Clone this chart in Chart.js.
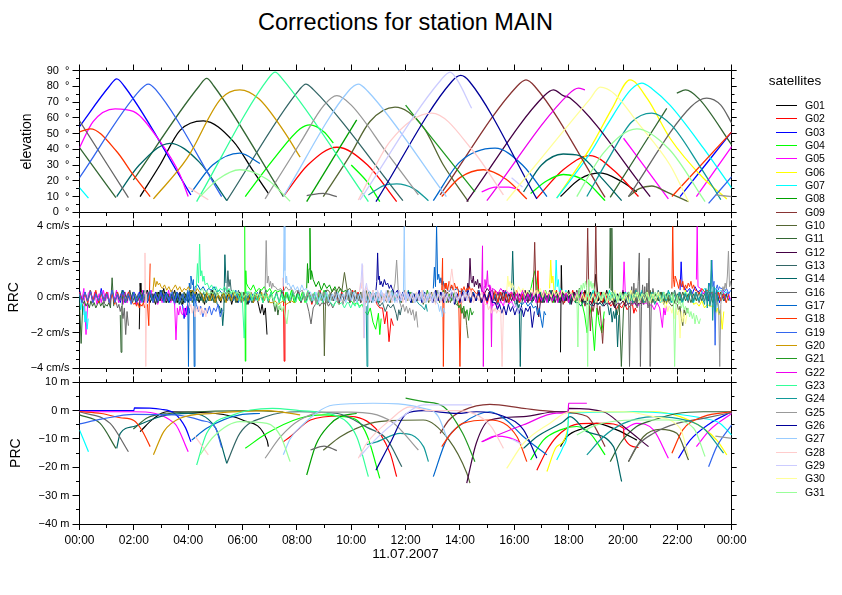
<!DOCTYPE html>
<html>
<head>
<meta charset="utf-8">
<script src="https://cdn.jsdelivr.net/npm/chart.js@4/dist/chart.umd.min.js"></script>
<style>
  body { margin: 0; background: #fff; width: 842px; height: 595px; overflow: hidden; position: relative;
         font-family: "Liberation Sans", Arial, Helvetica, sans-serif; color: #000; }
  canvas { position: absolute; left: 0; top: 0; }
  #title { position: absolute; left: 79.5px; width: 652px; top: 9px; text-align: center; font-size: 23.5px; line-height: 27px; }
  #legendTitle { position: absolute; left: 745px; width: 100px; top: 73px; text-align: center; font-size: 13.5px; line-height: 16px; }
  .row { position: absolute; left: 776px; height: 13px; width: 60px; }
  .row span.sw { position: absolute; left: 0; top: 6px; width: 21px; height: 1px; }
  .row span.tx { position: absolute; left: 29px; top: 0; font-size: 10.5px; line-height: 13px; }
</style>
</head>
<body>
<div id="title">Corrections for station MAIN</div>
<canvas id="elevChart" width="842" height="595"></canvas>
<canvas id="rrcChart" width="842" height="595"></canvas>
<canvas id="prcChart" width="842" height="595"></canvas>
<div id="legendTitle">satellites</div>
<div id="legend"></div>
<script>
// satellites and their colours
const satNames = ['G01','G02','G03','G04','G05','G06','G07','G08','G09','G10','G11','G12','G13','G14','G16',
  'G17','G18','G19','G20','G21','G22','G23','G24','G25','G26','G27','G28','G29','G30','G31'];
const satColors = ['#000000','#ff0000','#0000ff','#00ff00','#ff00ff','#ffff00','#00ffff','#00a000','#883333','#556633',
  '#336633','#440044','#336666','#006666','#666666','#0066cc','#ff3300','#3366ee','#cc9900','#229922',
  '#ee00ee','#33ff99','#119999','#999999','#000099','#99ccff','#ffcccc','#ccccff','#ffff99','#99ff99'];

const timeLabels = ['00:00','02:00','04:00','06:00','08:00','10:00','12:00','14:00','16:00','18:00','20:00','22:00','00:00'];
const dateLabel = '11.07.2007';

// elevation passes (hour, degrees), one list of arcs per satellite
const elevation = [
  [[[2.23,10],[2.96,30],[3.7,52],[4.56,58],[5.66,45],[6.4,26],[6.95,12]], [[17.7,10],[18.4,21],[19.16,25],[19.9,20],[20.51,13]]],
  [[[7.5,10],[8.4,30],[9.47,41.3],[10.6,30],[11.67,6.8]], [[16.83,9],[17.8,27],[18.79,36],[19.7,26],[20.57,10]]],
  [[[0,54.4],[1.1,80],[1.37,84.7],[1.65,80],[4.1,11]], [[22.1,10],[24,51]]],
  [[[6.1,10],[7.2,35],[8.12,53],[8.48,55.5],[9.0,51],[9.34,44]], [[10.0,30],[10.6,19],[11.05,6.8]], [[16.6,12],[17.2,20],[17.8,24],[18.6,20],[19.34,7.4]]],
  [[[0,41],[0.5,57.6],[1.31,65.7],[1.98,64],[2.96,45],[3.7,23.7],[4.0,10]], [[14.8,13],[15.3,16],[15.8,16],[16.2,14]], [[20.02,47],[21.67,8.5]], [[22.7,10],[24,41.7]]],
  [[[17.56,9],[18.79,40.7],[19.6,66],[20.26,84],[20.9,72],[21.73,47],[22.96,21.6],[23.82,8.5]]],
  [[[0,15.7],[0.33,9]], [[17.56,9],[18.79,37.5],[19.4,55],[20.3,78],[20.69,82],[21.1,78],[21.73,68],[22.96,40.7],[24,15.3]]],
  [[[8.36,6.8],[10.2,58.7]]],
  [[[13.27,11],[16.1,80],[16.43,84],[16.75,80],[19.34,9.5]]],
  [[[8.97,10],[9.95,36],[10.69,57.6],[11.61,66.7],[12.65,54],[13.39,30],[14.31,6.8]], [[20.2,10],[20.6,15],[21.06,16.7],[21.6,13],[22.41,6.8]]],
  [[[0,41],[1.34,9.3]], [[1.98,20.5],[4.4,80],[4.68,85],[4.95,80],[7.5,10]], [[19.53,9.5],[21.61,66]], [[21.98,75.6],[22.3,77.7],[22.8,72],[24,42.8]]],
  [[[14.25,6.8],[17.1,74],[17.44,77.7],[17.8,74],[18.05,72.5],[21.0,10]]],
  [[[5.42,7.4],[8.1,78],[8.33,81.4],[8.6,78],[11.9,7.4]]],
  [[[1.37,10],[2.2,30],[3.33,43.8],[4.4,32],[5.42,7.4]], [[16.34,13],[17.0,30],[17.8,37],[18.4,36],[19.2,22],[19.95,7.4]]],
  [[[0,58],[1.8,9.3]], [[8.36,10.6],[8.97,12],[9.47,10]], [[20.2,10],[22.5,67],[23.08,72.5],[23.6,68],[24,56.6]]],
  [[[4.13,13],[4.9,30],[5.9,37.5],[6.64,31]], [[13.02,7.4],[14.0,32],[15.29,40.7],[16.3,30],[17.2,10]]],
  [[[0,51],[0.4,53],[1.37,38.6],[1.98,23.7],[2.6,10]], [[13.33,10],[14.0,22],[14.86,27],[15.7,21],[16.46,8.5]], [[21.8,10],[24,51]]],
  [[[0,22],[2.25,78],[2.53,81.4],[2.8,78],[5.23,10]], [[23.15,5.7],[24,22.6]]],
  [[[2.72,8.5],[3.95,34],[5.2,72],[5.9,77.7],[6.6,72],[7.5,52],[8.12,35]]],
  [[[12.0,68],[14.55,13]]],
  [[[14.99,7.4],[18.0,75],[18.36,78.8],[18.6,77.7]]],
  [[[4.31,6.8],[6.95,85],[7.2,89],[7.45,85],[10.63,6.8]]],
  [[[10.63,11],[11.2,17],[11.67,18],[12.3,15],[12.84,7.4]], [[18.67,10],[19.5,35],[20.3,57],[21.06,63],[21.8,55],[22.8,30],[23.6,8]]],
  [[[6.83,8.5],[8.12,44],[9.0,68],[9.47,74],[10.0,68],[11.3,38],[12.47,11]], [[23.4,11],[24,10]]],
  [[[10.91,6.8],[13.7,83],[14.03,86.9],[14.35,83],[16.83,8.5]]],
  [[[7.5,10],[9.9,77],[10.26,81.4],[10.6,77],[13.5,10]]],
  [[[4.0,16],[4.74,8]], [[10.26,7.8],[11.43,45],[12.96,63],[14.5,38.6],[15.6,11]]],
  [[[10.32,7.8],[13.3,84],[13.64,89],[13.9,84],[14.43,66]], [[15.9,22],[16.3,16]]],
  [[[15.72,7.4],[18.79,72],[19.16,79.4],[19.7,75],[20.51,57.6],[21.73,30],[22.41,6.8]]],
  [[[4.44,10],[5.1,21],[5.9,27],[6.9,21],[7.75,7]], [[18.3,10],[19.3,38],[20.51,53],[21.7,40],[23.02,6.8]]]
];

// range-rate corrections in mm/s: per arc, runs of [start hour, step, values]
const rrc = [
  [[[2.2,0.03,[-18,8,3]],[2.3,0.1,[3,-2,4,-3,2,-4,3,-2,5,-3,2,-2,4,-3,3,-4,2,-3,4,-2,3,-3,2,-4,3,-2,4,-3,2,-3,3,-2,4,-4,2,-3,3,-2,2,-4,3,-3,2]],[6.6,0.06,[-5,-9,-4,-10,-6,-21]]],
   [[17.7,0.03,[-31,18,-2]],[17.8,0.1,[3,-2,4,-3,3,-2,5,-3,4,-2,3,-3,13,-2,3,-3,4,-2,3,-3,2,-2,4,-3,3,-2,2,-3]]]],
  [[[7.5,0.03,[11,-36,-11,2]],[7.65,0.1,[2,-3,3,-2,4,-3,2,-2,3,-4,2,-3,4,-2,3,-3,2,-2,3,-4,3,-2,2,-3,4,-2,3,-3,2,-3,3,-2,2,-4,-6]],[11.15,0.08,[-6,-15,-8,-25,-12,-16]]],
   [[16.83,0.04,[3,15,-3]],[16.95,0.1,[2,-3,3,-2,3,-2,4,-3,2,-3,3,-2,4,-3,2,-2,3,-3,2,-4,3,-2,3,-3,2,-2,-5,-3,-7,-4,-6,-3,-7,-5,-4]],[20.4,0.05,[-9,-6,-8]]]],
  [[[0,0.1,[4,-2,3,-3,4,-2,3,-3,5,-2,3,-3,4,-2,2,-3,4,-3,2,-2,3,-4,3,-2,4,-3,2,-2,3,-3,4,-2,3,-3,2,-4,3,-2]],[3.8,0.05,[-5,-12,-6,-10,-4,-9]]],
   [[22.1,0.04,[4,20,6]],[22.25,0.1,[6,3,5,2,6,3,4,2,3,-2,3,-2,4,-3,2,-2,3,-2]]]],
  [[[6.08,0.02,[40,-36,15,8]],[6.2,0.1,[6,4,7,3,5,4,6,3,5,2,4,3,4,-2,3,-2,4,-3,2,-2,3,-3,4,-2,2,-3,3,-2,4,-3,2,-2]]],
   [[10.0,0.1,[-2,-4,-3,-5,-4,-8,-10,-6,-14,-18,-9]],[11.05,0.05,[-21,-12]]],
   [[16.6,0.08,[4,10,15,5]],[16.95,0.1,[3,-2,4,-2,3,-3,2,-3,4,-2,3,-2,2,-3,3,-2]],[18.5,0.09,[-4,-10,-20,-5,-12,-30,-6,-15,-20,-8]]]],
  [[[0,0.08,[3,-3,5,-21,2,4,-3,3,-4,2,-3,4,-2,3,-4,3,-2,4,-3,2,-4,3,-3,4,-2,3,-4,2,-3,4,-3,3,-2,4,-3,2,-4,3,-3,2,-2,4,-3,2]],[3.5,0.05,[-4,-24,-6,-10,-5,-9,-10,-6,-11,-5]]],
   [[14.8,0.1,[-3,3,-4,2,-5,-3,-6,-2,-5,3,-4,-2,-6,-3]]],
   [[20.0,0.04,[3,20,4]],[20.15,0.1,[-3,2,-4,-3,-5,-2,-4,-3,-5,-4,-7,-3,-6]],[21.45,0.05,[-17,-6,-10,-5]]],
   [[22.7,0.03,[10,40,6]],[22.85,0.1,[5,2,4,1,3,-1,3,2,4,1,3,-1]]]],
  [[[17.3,0.04,[5,21,8,12,4]],[17.5,0.1,[3,-2,4,-2,3,-3,2,-2,3,-3,2,-2,3,-2,4,-3,2,-3,3,-2,4,-3,2,-2,3,-3,2,-2,4,-3,3,-2,2,-3,4,-2,3,-3,2,-2,3,-4,2,-3,3,-2,2,-3,4,-2,3,-4,-3,-5,-2,-6,-4,-5]],[23.35,0.06,[-5,-9,-6,-10,-7,-18,-8]]]],
  [[[0,0.04,[2,-7,-3,-10,-5,-14,-8,-18,-12]]],
   [[17.5,0.04,[4,21,6,10,3]],[17.7,0.1,[5,-2,4,-3,3,-2,4,-2,3,-3,2,-2,4,-3,3,-2,2,-3,4,-2,3,-3,2,-2,3,-4,2,-2,3,-3,4,-2,2,-3,3,-2,4,-3,2,-2,3,-3,4,-2,2,-3,3,-2,4,-3,2,-2,3,5,3,4,2,5,3,4,2,3,2]]]],
  [[[8.36,0.03,[5,19,8,16,39,10,15]],[8.6,0.1,[10,6,9,4,8,5,7,3,6,2,5,3,4,-2,3,2]]]],
  [[[13.27,0.1,[3,-2,4,-3,2,-2,3,-3,4,-2,2,-3,3,-2,4,-3,2,-2,3,-3,2,-4,3,-2,4,-3,2,-2,3,-3,2,-2,3,-2]],[16.7,0.05,[3,31,2,-3]],[16.9,0.1,[2,-3,3,-2,4,-3,2,-2,3,-4,2,-3,3,-2,4,-3,2]],[18.6,0.05,[-5,-2,39,-3,-19,-5,-8,-4,40,-6,-10,-5,-15,-26,-12]]]],
  [[[8.97,0.04,[3,-33,-5,4]],[9.15,0.1,[4,2,5,3,6,3,14,4,5,2,4,-2,3,-2,4,-3,2,-2,3,-3,2,-2,4,-3,3,-2,2,-3,4,-2,3,-3,2,-2,3,-4,2,-3,3,-2,4,-3,2,-2,3,-3,2,-4]],[14.0,0.05,[-5,-9,-6,-12,-8,-16,-23]]],
   [[20.2,0.1,[3,-2,4,-3,2,-3,3,-2,4,-3,2,-2,3,-4,2,-3,-5,-3]],[22.0,0.05,[-4,-8,-5,-12,-16,-7,-10,-6,-9]]]],
  [[[0,0.06,[-3,-26,-4,-2,-5,-3,-6,-2,-5,-3,-6,-4,-2,-5,-3,-6,-4,-5,-3,-6,11,-5]]],
   [[1.5,0.03,[-10,-31,-8,3]],[1.65,0.1,[3,-2,4,-3,2,-2,3,-3,4,-2,2,-3,3,-2,4,-3,2,-2,3,-3,2,-4,3,-2,4,-3,2,-2,3,-3,2,-2,4,-3,3,-2,2,-3,4,-2,3,-3,2,-2,3,-4,2,-3,3,-2,4,-3,2,-2,3]],[7.15,0.05,[-4,-8,-3,-10,-5,-7]]],
   [[19.5,0.03,[5,39,4,39,2,-5]],[19.7,0.08,[-3,-10,-4,-39,-6,-3]],[20.2,0.1,[3,-2,3,-2,2,-3,2,-2,3,-2,2,-2,3,-2,2,-2,3,-3,2,-2,3,-2,2,-3,2,-2,3,-2,2,-2,3,-3,2,-2,3,-2,2,-2]]]],
  [[[14.25,0.04,[3,8,5,22,10,8,12,6,9,7,10,5,8]],[14.8,0.1,[4,2,5,3,4,-2,3,-2,4,-3,2,-2,3,-3,2,-2,4,-3,3,-2,2,-11,3,-3,2,-2,4,-3,2,-3,3,-2,2,-4,3,-2,2,-3,-2,-4,-2,-5,-3,-4,-2,-5,-3,-4,-2,-6,-3,-4,-2,-5,-3,-4,-2,-5,-3,-4]]]],
  [[[5.42,0.04,[3,15,6,10,4]],[5.65,0.1,[3,-2,4,-3,2,-2,3,-3,2,-2,3,-2,4,-3,2,-2,3,-3,4,-2,2,-3,3,-2,4,-3,2,-2,3,-3,2,-4,3,-2,4,-3,2,-2,3,-3,2,-2,4,-3,3,-2,2,-3,4,-2,3,-3,2,-2,-5,-3,-8,-4,-6,-4]],[11.65,0.05,[-9,-13,-7,-10,-6]]]],
  [[[1.37,0.1,[3,-2,4,-3,2,-2,3,-3,2,-2,4,-3,3,-2,2,-3,4,-2,3,-3,2,-2,3,-4,2,-3,3,-2,4,-3,2,-2,3,-3,2,-2,3,-4]],[5.15,0.04,[-5,-9,-6,-16,-8,24,8]]],
   [[15.9,0.04,[4,26,5,-3,-5,-2,-6,-4,-39,-5]],[16.35,0.1,[3,-2,4,-3,2,-2,3,-3,2,-3,4,-2,3,-3,2,-2,3,-4,2,-3,-3,-5,-2,-4,-3,-5,-2,-4,-3,-5,-2]],[19.45,0.05,[-5,-10,-6,-14,-8,-12,-7,-28,-10]]]],
  [[[0,0.1,[2,-3,3,-2,4,-3,2,-2,3,-4,2,-3,3,-2]],[1.35,0.05,[-3,-6,-4,-8,-5,-12,-6,-21,-8,-16]]],
   [[8.36,0.08,[-3,-8,-15,-6,-4,-2,-5,-3,-4,-2,-5,-3,-6,-3]]],
   [[20.2,0.04,[3,-39,-5,6,-4,8,-3,5,-6,9,25,-39,-5,7,-4,6,-3,8,-6,22,-39,-4]],[21.1,0.1,[5,-3,4,-2,3,-3,2,-2,4,-3,3,-2,2,-3,4,-2,3,-3,2,-2,3,-4,2,-3,3,-2,2,-3]]]],
  [[[3.98,0.03,[4,-39,8,5,12,9,7,10,-39,6]],[4.35,0.1,[7,4,6,3,5,4,6,3,4,2,3,-2,3,-2,4,-3,2,-2,3,-3,2,-2,3]]],
   [[13.02,0.04,[5,17,6,40,10,13,8,11,7,9,6]],[13.5,0.1,[5,3,6,4,5,3,4,2,3,-2,3,-2,4,-3,2,-2,3,-3,2,-4,3,-2,4,-3,2,-2,3,-3,-4,-2,-5,-3,-6]],[16.8,0.06,[-5,-10,-6,-12,-17,-8,-10]]]],
  [[[0,0.1,[3,-2,2,-3,3,-2,4,-3,2,-2,3,-3,2,-4,3,-2,2,-3,3,-2]],[2.0,0.05,[-4,-3,-5,-3,-6,-4,-5,-3,-6,-5,-4,-16,19]]],
   [[13.33,0.03,[4,22,-39,6,8,5]],[13.5,0.05,[8,4,9,5,7,4,8,5,6,3,-39,5,4,6,3,5,4,6,3,5]],[14.5,0.1,[4,2,3,-2,3,-3,2,-2,4,-3,3,-2,2,-3,3,-2,4,-3,2,-2]]],
   [[21.8,0.03,[5,40,10,6,12]],[22.0,0.05,[8,5,10,6,9,4,7,5,8,6,9,5,7,4]],[22.7,0.1,[4,2,5,3,4,2,3,-2,3,-2,2,-3,2]]]],
  [[[0,0.1,[2,-3,3,-2,3,-3,2,-2,3,-2,2,-3,4,-3,2,-2,3,-3,2,-4,3,-2,2,-3,3,-2,4,-3,2,-2,3,-3,2,-2,4,-3,3,-2,2,-3,3,-2,2]],[4.3,0.08,[-4,-8,-5,-11,-6,-9,-5,-10,-6,-8,-4,-11,-7]]],
   [[23.15,0.04,[4,8,5,21,6,9,-27,5,7,4,6,5]],[23.65,0.08,[5,3,5,2,4]]]],
  [[[2.7,0.05,[3,11,6,9,7,8,6]],[3.05,0.08,[5,7,4,6,3,5,7,4,6,3,5,4,6,3,4,2,5,3]],[4.5,0.1,[2,-2,3,-2,2,-3,2,-2,3,-3,2,-2,3,-2,2,-3,2,-2,3,-3,2,-2,3,-2,2,-3,-3,-2,-4,-3,-2,-4,-3,-2,-3,-2]]]],
  [[[12.0,0.1,[3,-2,3,-3,2,-2,3,-3,4,-2,2,-3,3,-2,4,-3,2,-2,3]],[13.9,0.06,[-3,-6,-4,-9,-5,-11,-7,-13,-6,-10,-8]]]],
  [[[14.8,0.03,[3,29,-39,6,10,5,8,15,6,7,4,6,-28,5]],[15.3,0.1,[4,2,5,3,4,2,3,-2,3,-2,4,-3,2,-2,3,-3,2,-2,4,-3,3,-2,2,-3,4,-2,3,-3,2,-2,3,-2,4]]]],
  [[[4.3,0.04,[5,19,8,30,12,15,9,12,7]],[4.7,0.08,[8,5,7,4,6,3,5,4,6,3,5,2,4,3,2,-2,3,-23,3]],[6.25,0.1,[3,-2,3,-2,2,-3,2,-2,3,-2,2,-3,2,-3,3,-2,4,-3,2,-2,3,-3,2,-2,3,-4,2,-3,3,-2,-3,-5,-2,-4,-3,-6,-3]],[9.9,0.08,[-3,-6,-3,-5,-2,-6,-4,-5,-3]]]],
  [[[10.55,0.03,[-5,-39,-3,3]],[10.7,0.1,[3,-2,3,-3,2,-2,3,-3,4,-2,2,-3,3,-2,4,-3,2,-2,-4,-5]],[12.7,0.05,[-7,-4,-8]]],
   [[18.67,0.1,[3,-2,3,-3,2,-2,3,-3,2,-2,3,-3,2,-2,3,-3,2,-3,4,-2,3,-3,2,-2,3,-4,2,-3,3,-2,4,-3,2,-2,3,-3,2,-2,4,-3,3,-2,2]],[23.0,0.05,[-4,5,-6,8,-5,21,-13,6,-8,4,-5,-9]]]],
  [[[6.83,0.04,[4,32,8,12,6,9,5,8,6]],[7.2,0.1,[6,4,5,3,6,4,5,2,4,3,4,-2,3,-2,2,-3,4,-2,3,-3,2,-2,3,-3,2,-4,3,-2,4,-3,2,-2,3,-3,2,-2,4,-3,3,-2,2,-3,3]],[11.55,0.06,[3,8,21,4,-3,-6,-4,-8,-5,-9,-6,-10,-7,-13,-8,-17]]],
   [[23.4,0.04,[2,-4,-3,-5,-39,-4,3,6,4,8,5,12,26,6,9,5]]]],
  [[[10.91,0.03,[4,9,25,10,12,7]],[11.1,0.06,[9,6,10,7,8,5,7]],[11.5,0.1,[5,2,4,-2,3,-2,3,-3,2,-2,4,-3,3,-2,2,-3,4,-2,3,-3,2,-2,3,-4,2,-3,3,-2,4,-3,2,-2,3,-3,2,-2,3,-3]],[15.3,0.08,[-3,-7,-4,-9,-5,-10,-4,-8,-5,-10,-6,-9,-5,-11,-6,-8,-5,-17,-8]]]],
  [[[7.5,0.03,[6,40,15,8,12,7]],[7.7,0.08,[8,5,7,4,6,3,7,4,5,3]],[8.5,0.1,[3,-2,3,-3,2,-2,3,-3,2,-2,3,-2,2,-3,4,-2,3,-3,2,-2,3,-4,2,-3,3,-2,4,-3,2,-2,3,-3,2,-2]],[11.92,0.03,[3,40,3,-2]],[12.05,0.1,[3,-2,3,-3,2,-2,4,-3,2,-2,3,-3]],[13.2,0.05,[-4,-8,-5,-11,-6,-9]]]],
  [[[2.38,0.03,[2,25,-39,2]]],
   [[4.0,0.05,[-3,-6,-4,-9,-5,-11,-6,-8,-5,-10,-6,-9,-7,-11,-6]]],
   [[10.3,0.04,[3,8,5,18,-23,4,6]],[10.6,0.1,[3,-2,4,-2,3,-3,2,-2,3,-3,2,-2,3,-3,4,-2,2,-3,3,-2,4,-3,2,-2,3,-4,2,-3,3,-2,4,16,3,-2,2,-3,3,-2,4,-3,2,-2,3,-4]],[15.0,0.05,[-4,-7,-5,-9,-6,-8,-6,-9,-7,-8,-7,-39,-7]]]],
  [[[10.32,0.04,[4,9,19,6,-23,5,8,4]],[10.65,0.08,[4,-2,3,-3,4,-2,3,-2,4,-3,2,-2,3,-3,4,-2,3,-3,2,-2,3,-3,2,-2,3,-3,2,-2,3,-3,2,-3,4,-2,3,-3,2,-2,4,-3,3,-2,2,-3,4,-2,3]]],
   [[15.9,0.08,[-3,-6,-4,-9,-5,-7]]]],
  [[[15.72,0.04,[3,12,6,9,5,8]],[16.0,0.08,[5,2,6,3,5,1,4,2,5,1,4,2,5,0,4,1,3,0,4,1,3,0,4,2,3,1]],[18.1,0.1,[3,-2,2,-3,2,-2,3,-2,2,-3,2,-2,3,-3,2,-2,4,-3,3,-2,2,-3,4,-2,3,-3,2,-2,3,-3,2,-2,3,-3]],[21.5,0.05,[-3,-6,-4,-8,-5,-6,-9,-5,-12,-6,-10,-7,-23,-8,-14,-9,-15,-10]]]],
  [[[4.44,0.08,[3,5,2,4,1,3,2,4,1,3,2,3,1,3,2,4,1,3,2,3,0,2,1,3,0,2,1,2,0,2,-1,1,-1,1]],[7.15,0.06,[-2,-5,-3,-7,-4,-8,-5,-10,-15,-7]]],
   [[18.3,0.04,[3,-28,5,3,7,4,8,5,9,6,-39,10,6,9,5,8]],[18.95,0.08,[4,2,3,-1,3,1,2,-2,3,0,2,-2,3,-1,2,1,3,-2,2,0,3,-1,2,1,3,-2,2,-1,3,0,2,-2,3,-1,2,1]],[21.8,0.05,[-2,2,-39,-3,1,-4,-2,-6,-3,-7,-5,-9,-6,-11,-8,-12,-9,-15,-10,-13,-15,-12]]]]
];

// pseudo-range corrections (hour, metres)
const prc = [
  [[[2.23,-7.4],[2.7,-3],[3.2,-0.4],[5,-1],[6,-3.3],[6.9,-10.4],[6.95,-12.7]], [[17.7,-12.7],[17.93,-9.2],[18.55,-6.2],[19.03,-4.5],[19.77,-6.8],[20.51,-10.4]]],
  [[[7.5,-11],[7.75,-9.2],[8.5,-3.3],[9.6,-1.9],[10.7,-4.5],[11.43,-15],[11.67,-23.3]], [[16.83,-21],[17.2,-14],[17.56,-9.2],[18.2,-5],[18.8,-4.5],[19.28,-4.5],[20.02,-6.2],[20.04,-9.5],[20.57,-13]]],
  [[[0,0],[2,0],[2.02,1],[3.0,0.5],[3.5,-1],[3.9,-6],[4.1,-11]], [[22.04,-16.8],[22.47,-10.4],[23.2,-4.5],[24,-0.4]]],
  [[[6.1,-13.3],[6.9,-8],[8.1,-2.7],[9.0,-1.5],[9.6,-2],[10.2,-3.3],[10.6,-9.2],[11.05,-23.9]], [[16.6,-17.4],[17.07,-10.4],[17.7,-6.8],[18.3,-5.6],[18.79,-8],[19.34,-15.6]]],
  [[[0,-0.4],[2,-0.4],[3.5,-4.5],[4.0,-14.5]], [[14.8,-11],[15.3,-9],[15.8,-9.5],[16.2,-11]], [[20.02,-6.8],[20.5,-4.5],[21.12,-6.8],[21.67,-16.8]], [[22.7,-12.7],[23.2,-6.8],[24,-1]]],
  [[[17.2,-21.5],[17.56,-12.7],[17.97,-6.2],[18.0,-0.7],[20.02,-0.4],[21.12,-0.4],[22.1,-2.1],[22.96,-6.2],[23.45,-10.4],[23.82,-15.6]]],
  [[[0,-6.8],[0.33,-14.5]], [[17.56,-17.4],[17.8,-12.7],[17.97,-6.8],[18.0,-1],[20.5,-0.4],[21.7,-1],[22.96,-2.7],[23.57,-4.5],[24,-8.6]]],
  [[[8.36,-22.7],[8.7,-12],[9.2,-5],[9.6,-2.1],[10.2,-1]]],
  [[[13.27,-8],[13.6,-3.3],[14.1,0],[15.1,2.2],[16.34,0.8],[17.56,-0.4],[18.67,-2],[19.16,-9.2],[19.34,-12.7]]],
  [[[8.97,-14],[9.6,-9.2],[10.7,-4.5],[11.43,-3.5],[12.65,-3.3],[13.6,-10.4],[14.25,-22],[14.37,-25.6]], [[20.2,-18],[20.75,-9.2],[21.37,-6.6],[21.98,-8],[22.41,-17.4]]],
  [[[0,-1.5],[0.76,-4.5],[1.34,-13.3]], [[1.98,-6.5],[2.5,-2.5],[3.3,-1],[5,-0.2],[6.5,0],[7.5,-0.5]], [[19.53,-18],[19.9,-11.5],[20.5,-5.6],[21.12,-3.3],[21.98,-1],[22.96,-0.4],[24,-0.4]]],
  [[[14.25,-25.6],[14.6,-11.5],[15.1,-3.3],[16.34,-2.1],[17.56,-0.4],[17.98,-0.3],[18.0,0.8],[19.28,-0.4],[20.02,-5.6],[20.94,-12.7]]],
  [[[5.42,-18.6],[5.9,-8],[6.9,-2],[8.1,-0.4],[9.5,-1],[10.6,-6],[11.3,-10],[11.86,-19.8]]],
  [[[1.37,-13.3],[1.5,-8],[2,-5.6],[3,-2],[4,-1],[5,-6],[5.42,-18.6]], [[16.34,-13.3],[16.83,-9.2],[17.8,-3.9],[18.05,-2.1],[18.67,-7.4],[19.65,-12.7],[19.95,-25]]],
  [[[0,-0.4],[1.13,-4.5],[1.8,-14.5]], [[8.5,-13.9],[9,-12.5],[9.47,-14.1]], [[20.2,-18],[20.5,-12.7],[21.12,-8],[21.98,-4.5],[22.96,-2.7],[24,-0.7]]],
  [[[4.13,-10.4],[4.68,-6.2],[5.9,-1.5],[6.64,-1]], [[13.02,-23.3],[13.5,-10.4],[14.1,-4.5],[15.1,-0.4],[15.7,-3.3],[16.34,-9.2],[17.2,-15.6]]],
  [[[0,-0.3],[0.8,-1],[1.5,-2.5],[2.0,-3.5],[2.3,-7],[2.6,-12.7]], [[13.33,-12.7],[13.63,-8.6],[14.1,-4.5],[15.1,-3.3],[16.1,-9.2],[16.46,-18]], [[21.8,-15],[22.2,-6.8],[22.96,-2.1],[24,-0.4]]],
  [[[0,-4.7],[0.8,-3],[2,-1.3],[3.5,-1.5],[4.5,-3.5],[5.0,-6],[5.23,-13]], [[23.15,-19.8],[23.45,-12.7],[24,-5]]],
  [[[2.72,-15.6],[3.1,-7.4],[3.7,-2.7],[4.9,-1],[6.9,0],[8.12,-1.5]]],
  [[[12.0,4.4],[12.66,3.2],[13.4,1.4],[14.1,-8],[14.55,-18]]],
  [[[14.8,-11],[15.24,-9.2],[16.34,-5],[17.56,-0.9],[17.98,-0.5],[18.0,2.6],[18.67,2.6]]],
  [[[4.31,-19.2],[4.68,-8],[5.66,-1.5],[7.1,0.8],[8.1,0],[9.5,-2],[10.2,-9.2],[10.63,-23.3]]],
  [[[10.57,-12],[10.94,-11],[11.8,-8],[12.66,-12.7],[12.84,-18]], [[18.67,-15.6],[19.28,-9.2],[20.02,-4.5],[21.12,-2.1],[21.98,-2.7],[22.96,-6.2],[23.7,-15]]],
  [[[6.83,-16.8],[7.4,-9.2],[8.1,-3.3],[9.0,-0.5],[10.0,-0.5],[11.5,-4],[12.47,-13.9]], [[23.4,-9],[24,-9.8]]],
  [[[10.91,-21],[11.43,-11.5],[12.04,-1],[12.66,0],[13.9,-1],[14.6,-0.4],[15.6,-2],[16.34,-6.8],[16.83,-16.8]]],
  [[[7.5,-15.6],[7.75,-10],[8.1,-6],[9.34,2],[10.8,2.6],[12.66,0.8],[13.2,-2],[13.5,-9.2]]],
  [[[4.25,-9],[4.74,-15.6]], [[10.26,-16.8],[10.57,-11.5],[11.43,-3.3],[12.16,1.3],[12.9,0],[13.9,0],[15.1,-5],[15.6,-13.3]]],
  [[[10.32,-16.2],[10.8,-11],[11.8,-2.7],[12.66,2],[14.43,2]], [[15.9,-10],[16.3,-12]]],
  [[[15.72,-20.4],[16.34,-11.5],[17.3,-4.5],[18.05,-0.4],[20.02,-0.4],[21.12,-2.1],[22.1,-6.2],[22.41,-16.2]]],
  [[[4.44,-15.6],[4.93,-9.2],[5.9,-3.9],[6.9,-4.5],[7.4,-9],[7.75,-18]], [[18.3,-8.6],[19.03,-5],[20.5,-3.3],[21.73,-3.3],[22.6,-6.2],[23.02,-16.2]]]
];

Chart.defaults.font.family = '"Liberation Sans", Arial, Helvetica, sans-serif';
Chart.defaults.color = '#000';

// panel frame positions in the page (px)
const plotLeft = 79.5, plotRight = 731.7, pageH = 595;

// join arcs into one series with gaps between passes
function joinArcs(arcs) {
  const pts = [];
  arcs.forEach((arc, k) => {
    if (k > 0) pts.push([arc[0][0], null]);
    arc.forEach(p => pts.push(p));
  });
  return pts;
}

// expand [start, step, values] runs into points, mm/s -> cm/s
function expandRuns(arcs) {
  return joinArcs(arcs.map(arc => {
    const pts = [];
    arc.forEach(([t0, dt, vals]) => vals.forEach((v, i) => pts.push([+(t0 + i * dt).toFixed(3), v / 10])));
    return pts;
  }));
}

function signed(v) {
  return v < 0 ? '\u2212' + (-v) : String(v);
}

function makeScales(p) {
  const border = { display: true, color: '#000', width: 1 };
  const majorX = ctx => ctx.tick && ctx.tick.value % 2 === 0;
  const majorY = ctx => ctx.tick && ctx.tick.value % p.major === 0;
  return {
    x: {
      type: 'linear', position: 'bottom', min: 0, max: 24, border,
      grid: { drawOnChartArea: false, tickLength: 6, tickColor: '#000', tickWidth: 1,
              tickBorderDash: ctx => majorX(ctx) ? [] : [3, 100] },
      ticks: { display: !!p.showX, stepSize: 1, maxTicksLimit: 100, autoSkip: false, maxRotation: 0, padding: 3,
               font: { size: 12 }, callback: v => v % 2 === 0 ? timeLabels[v / 2] : '' },
      title: { display: !!p.showX, text: dateLabel, font: { size: 13.5 }, padding: { top: 0, bottom: 33 } },
      afterFit: s => { s.height = pageH - p.bottom; }
    },
    xTop: {
      type: 'linear', position: 'top', min: 0, max: 24, border,
      grid: { drawOnChartArea: false, tickLength: 6, tickColor: '#000', tickWidth: 1,
              tickBorderDash: ctx => majorX(ctx) ? [] : [0, 3, 3, 100] },
      ticks: { display: false, stepSize: 1, maxTicksLimit: 100, autoSkip: false },
      afterFit: s => { s.height = p.top; }
    },
    y: {
      type: 'linear', position: 'left', min: p.min, max: p.max, border,
      grid: { drawOnChartArea: false, tickLength: 7, tickColor: '#000', tickWidth: 1,
              tickBorderDash: ctx => majorY(ctx) ? [] : [0, 3.5, 3.5, 100] },
      ticks: { stepSize: p.step, maxTicksLimit: 100, autoSkip: false, padding: 3, font: { size: 11 },
               callback: v => v % p.major === 0 ? p.label(v) : '' },
      title: { display: true, text: p.title, font: { size: 14 }, padding: { top: p.titlePad, bottom: 0 } },
      afterFit: s => { s.width = plotLeft; }
    },
    yRight: {
      type: 'linear', position: 'right', min: p.min, max: p.max, border,
      grid: { drawOnChartArea: false, tickLength: 5, tickColor: '#000', tickWidth: 1,
              tickBorderDash: ctx => majorY(ctx) ? [] : [2.5, 100] },
      ticks: { display: false, stepSize: p.step, maxTicksLimit: 100, autoSkip: false },
      afterFit: s => { s.width = 842 - plotRight; }
    }
  };
}

function makeDatasets(series, width, smooth) {
  return satNames.map((name, i) => ({
    label: name,
    data: series[i],
    borderColor: satColors[i],
    backgroundColor: satColors[i],
    borderWidth: width,
    pointRadius: 0,
    tension: 0,
    cubicInterpolationMode: smooth ? 'monotone' : 'default',
    spanGaps: false,
    order: satNames.length - i
  }));
}

function makeChart(id, series, width, smooth, p) {
  return new Chart(document.getElementById(id), {
    type: 'line',
    data: { datasets: makeDatasets(series, width, smooth) },
    options: {
      responsive: false,
      animation: false,
      devicePixelRatio: 1,
      layout: { padding: 0 },
      plugins: { legend: { display: false }, title: { display: false }, tooltip: { enabled: false } },
      scales: makeScales(p)
    }
  });
}

makeChart('elevChart', elevation.map(joinArcs), 1.3, true, {
  top: 70.5, bottom: 212.3, min: 0, max: 90, step: 5, major: 10,
  label: v => v + '  \u00b0', title: 'elevation', titlePad: 18.6
});
makeChart('rrcChart', rrc.map(expandRuns), 1, false, {
  top: 226.3, bottom: 368.3, min: -4, max: 4, step: 0.5, major: 2,
  label: v => signed(v) + ' cm/s', title: 'RRC', titlePad: 5.4
});
makeChart('prcChart', prc.map(joinArcs), 1.2, true, {
  top: 382.3, bottom: 524, min: -40, max: 10, step: 5, major: 10,
  label: v => signed(v) + ' m', title: 'PRC', titlePad: 7.4, showX: true
});

// legend
const legend = document.getElementById('legend');
satNames.forEach((name, i) => {
  const row = document.createElement('div');
  row.className = 'row';
  row.style.top = Math.round(99 + i * 13.33) + 'px';
  row.innerHTML = '<span class="sw" style="background:' + satColors[i] + '"></span><span class="tx">' + name + '</span>';
  legend.appendChild(row);
});
</script>
</body>
</html>
